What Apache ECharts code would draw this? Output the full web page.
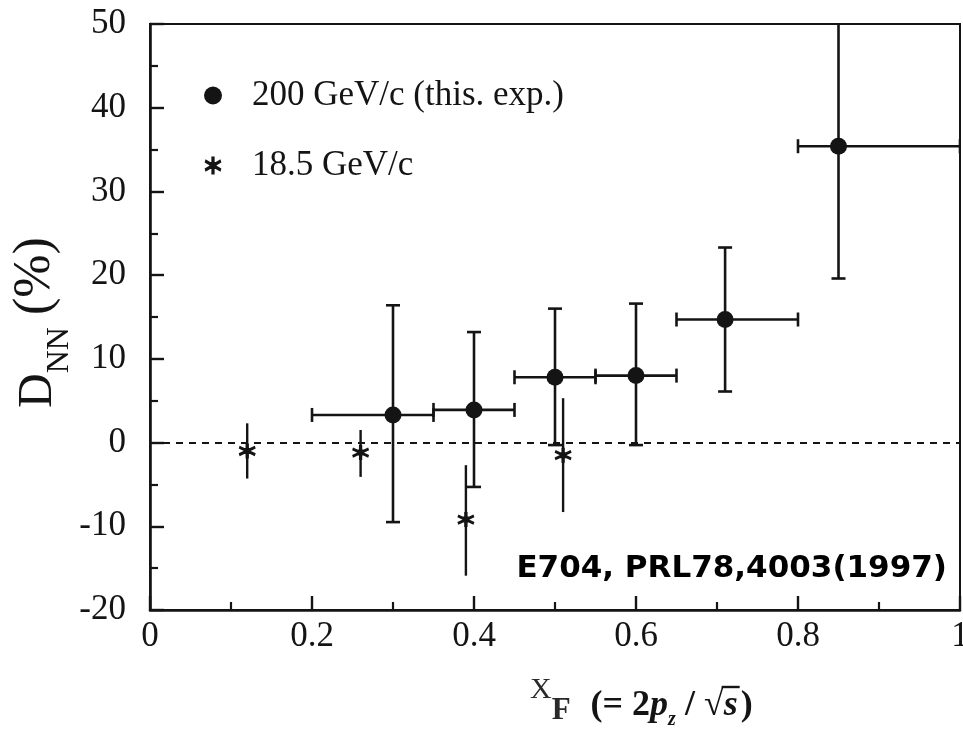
<!DOCTYPE html>
<html>
<head>
<meta charset="utf-8">
<script src="https://cdn.jsdelivr.net/npm/echarts@6/dist/echarts.min.js"></script>
<style>
  html, body { margin: 0; padding: 0; background: #fff; }
  #chart { width: 963px; height: 735px; }
</style>
</head>
<body>
<div id="chart"></div>
<script>
// D_NN vs x_F, 200 GeV/c (this experiment): centre, x-bin edges, error band
const xf200 = [0.30, 0.40, 0.50, 0.60, 0.71, 0.85];
const dnn200 = [3.3, 3.9, 7.8, 8.0, 14.7, 35.4];
const xLow200 = [0.20, 0.35, 0.45, 0.55, 0.65, 0.80];
const xHigh200 = [0.35, 0.45, 0.55, 0.65, 0.80, 1.00];
const dnnLow200 = [-9.5, -5.3, -0.3, -0.3, 6.1, 19.6];
const dnnHigh200 = [16.4, 13.2, 16.0, 16.6, 23.3, 52.0];

// D_NN vs x_F, 18.5 GeV/c
const xf185 = [0.12, 0.26, 0.39, 0.51];
const dnn185 = [-1.0, -1.2, -9.2, -1.5];
const dnnLow185 = [-4.3, -4.1, -15.9, -8.3];
const dnnHigh185 = [2.3, 1.5, -2.7, 5.3];

// axis ranges and tick steps
const xRange = [0, 1];
const xStep = 0.2;
const yRange = [-20, 50];
const yStep = 10;

const name200 = '200 GeV/c (this. exp.)';
const name185 = '18.5 GeV/c';
const reference = 'E704, PRL78,4003(1997)';

const ink = '#141414';
const serif = '"Liberation Serif", "Times New Roman", serif';
// asterisk marker: vertical bar, two diagonals and a solid centre
const starPath = 'path://M41,0 L59,0 L59,100 L41,100 Z ' +
  'M8.5,15.4 L96.6,66.2 L91.5,84.6 L3.4,33.8 Z ' +
  'M3.4,66.2 L91.5,15.4 L96.6,33.8 L8.5,84.6 Z ' +
  'M30,30 L70,30 L70,70 L30,70 Z';

const data200 = xf200.map((x, i) => [x, dnn200[i], xLow200[i], xHigh200[i], dnnLow200[i], dnnHigh200[i]]);
const data185 = xf185.map((x, i) => [x, dnn185[i], dnnLow185[i], dnnHigh185[i]]);

const CAP = 7;
function seg(x1, y1, x2, y2, w) {
  return { type: 'line', shape: { x1, y1, x2, y2 }, style: { stroke: ink, lineWidth: w } };
}
function bars200(params, api) {
  const c = api.coord([api.value(0), api.value(1)]);
  const l = api.coord([api.value(2), api.value(1)]);
  const r = api.coord([api.value(3), api.value(1)]);
  const lo = api.coord([api.value(0), api.value(4)]);
  const hi = api.coord([api.value(0), api.value(5)]);
  return {
    type: 'group',
    children: [
      seg(l[0], c[1], r[0], c[1], 2.6),
      seg(c[0], hi[1], c[0], lo[1], 2.6),
      seg(l[0], c[1] - CAP, l[0], c[1] + CAP, 2.6),
      seg(r[0], c[1] - CAP, r[0], c[1] + CAP, 2.6),
      seg(c[0] - CAP, hi[1], c[0] + CAP, hi[1], 2.6),
      seg(c[0] - CAP, lo[1], c[0] + CAP, lo[1], 2.6)
    ]
  };
}
function bars185(params, api) {
  const lo = api.coord([api.value(0), api.value(2)]);
  const hi = api.coord([api.value(0), api.value(3)]);
  return seg(lo[0], hi[1], lo[0], lo[1], 2.4);
}

// text pieces laid out one after another, measured with the canvas font metrics
const measureCtx = document.createElement('canvas').getContext('2d');
function fontString(p) {
  return (p.style || 'normal') + ' ' + (p.weight || 'normal') + ' ' + p.size + 'px ' + (p.family || serif);
}
function chainText(pieces, startX) {
  let x = startX;
  return pieces.map(p => {
    if (p.gap) x += p.gap;
    measureCtx.font = fontString(p);
    const w = measureCtx.measureText(p.text).width;
    const el = {
      type: 'text',
      x: x,
      y: p.base - 0.34 * p.size,
      style: {
        text: p.text,
        fontFamily: p.family || serif,
        fontSize: p.size,
        fontWeight: p.weight || 'normal',
        fontStyle: p.style || 'normal',
        fill: p.color || ink,
        align: 'left',
        verticalAlign: 'middle'
      }
    };
    p.x0 = x; p.x1 = x + w;
    x += w;
    return el;
  });
}

// x-axis title: X_F (= 2 p_z / sqrt(s))
const xTitlePieces = [
  { text: 'X', size: 30, base: 700, color: '#2a2a2a' },
  { text: 'F', size: 31, base: 722, weight: 'bold', color: '#2a2a2a' },
  { text: '(= 2', size: 36, base: 718, weight: 'bold', gap: 20 },
  { text: 'p', size: 36, base: 718, weight: 'bold', style: 'italic' },
  { text: 'z', size: 20, base: 727, weight: 'bold', style: 'italic' },
  { text: ' / ', size: 36, base: 718, weight: 'bold' },
  { text: '\u221A', size: 36, base: 718, weight: 'bold' },
  { text: 's', size: 36, base: 718, weight: 'bold', style: 'italic' },
  { text: ')', size: 36, base: 718, weight: 'bold', gap: 3 }
];
const xTitleEls = chainText(xTitlePieces, 530);
const rootPiece = xTitlePieces[6], sPiece = xTitlePieces[7];
xTitleEls.push({
  type: 'line',
  shape: { x1: rootPiece.x1 - 2, y1: 687, x2: sPiece.x1 + 2, y2: 687 },
  style: { stroke: ink, lineWidth: 2.4 }
});

// y-axis title: D_NN (%)
const yTitlePieces = [
  { text: 'D', size: 48, base: 0 },
  { text: 'NN', size: 32, base: 15 },
  { text: '(%)', size: 52, base: -2, gap: 12 }
];
const yTitleEls = chainText(yTitlePieces, 0);

const chart = echarts.init(document.getElementById('chart'));
chart.setOption({
  animation: false,
  backgroundColor: '#fff',
  grid: {
    left: 150, right: 3, top: 24, bottom: 125,
    outerBoundsMode: 'none',
    containLabel: false,
    show: true, borderColor: ink, borderWidth: 2, backgroundColor: 'transparent'
  },
  legend: {
    orient: 'vertical',
    left: 199, top: 73,
    itemGap: 35, itemWidth: 18, itemHeight: 18,
    selectedMode: false,
    data: [
      { name: name200, icon: 'circle' },
      { name: name185, icon: starPath }
    ],
    textStyle: { fontFamily: serif, fontSize: 35, color: ink, padding: [0, 0, 0, 25] }
  },
  xAxis: {
    type: 'value',
    min: xRange[0], max: xRange[1], interval: xStep,
    axisLine: { show: true, onZero: false, lineStyle: { color: ink, width: 2.6 } },
    axisTick: { show: true, inside: true, length: 14, lineStyle: { color: ink, width: 2.4 } },
    minorTick: { show: true, splitNumber: 2, length: 8, lineStyle: { color: ink, width: 2.2 } },
    splitLine: { show: false },
    axisLabel: { margin: 9, fontFamily: serif, fontSize: 35, color: ink }
  },
  yAxis: {
    type: 'value',
    min: yRange[0], max: yRange[1], interval: yStep,
    axisLine: { show: true, onZero: false, lineStyle: { color: ink, width: 2.6 } },
    axisTick: { show: true, inside: true, length: 14, lineStyle: { color: ink, width: 2.4 } },
    minorTick: { show: true, splitNumber: 2, length: 8, lineStyle: { color: ink, width: 2.2 } },
    splitLine: { show: false },
    axisLabel: { margin: 24, fontFamily: serif, fontSize: 35, color: ink }
  },
  series: [
    {
      name: 'bars200', type: 'custom', renderItem: bars200, clip: true, silent: true, z: 2,
      encode: { x: 0, y: 1 }, data: data200,
      markLine: {
        silent: true, symbol: 'none', label: { show: false },
        lineStyle: { color: ink, width: 2, type: [7, 6] },
        data: [{ yAxis: 0 }]
      }
    },
    {
      name: 'bars185', type: 'custom', renderItem: bars185, clip: true, silent: true, z: 2,
      encode: { x: 0, y: 1 }, data: data185
    },
    {
      name: name200, type: 'scatter', symbol: 'circle', symbolSize: 17, z: 3,
      itemStyle: { color: ink, opacity: 1 },
      data: data200.map(d => [d[0], d[1]])
    },
    {
      name: name185, type: 'scatter', symbol: starPath, symbolSize: [17, 15], z: 3,
      itemStyle: { color: ink, opacity: 1 },
      data: data185.map(d => [d[0], d[1]])
    }
  ],
  graphic: [
    {
      type: 'text', right: 963 - 947, top: 553,
      style: {
        text: reference, fontFamily: '"DejaVu Sans", Verdana, sans-serif',
        fontWeight: 'bold', fontSize: 31, fill: '#000'
      }
    },
    { type: 'group', x: 0, y: 0, children: xTitleEls },
    { type: 'group', x: 55, y: 408, rotation: Math.PI / 2, children: yTitleEls }
  ]
});
</script>
</body>
</html>
